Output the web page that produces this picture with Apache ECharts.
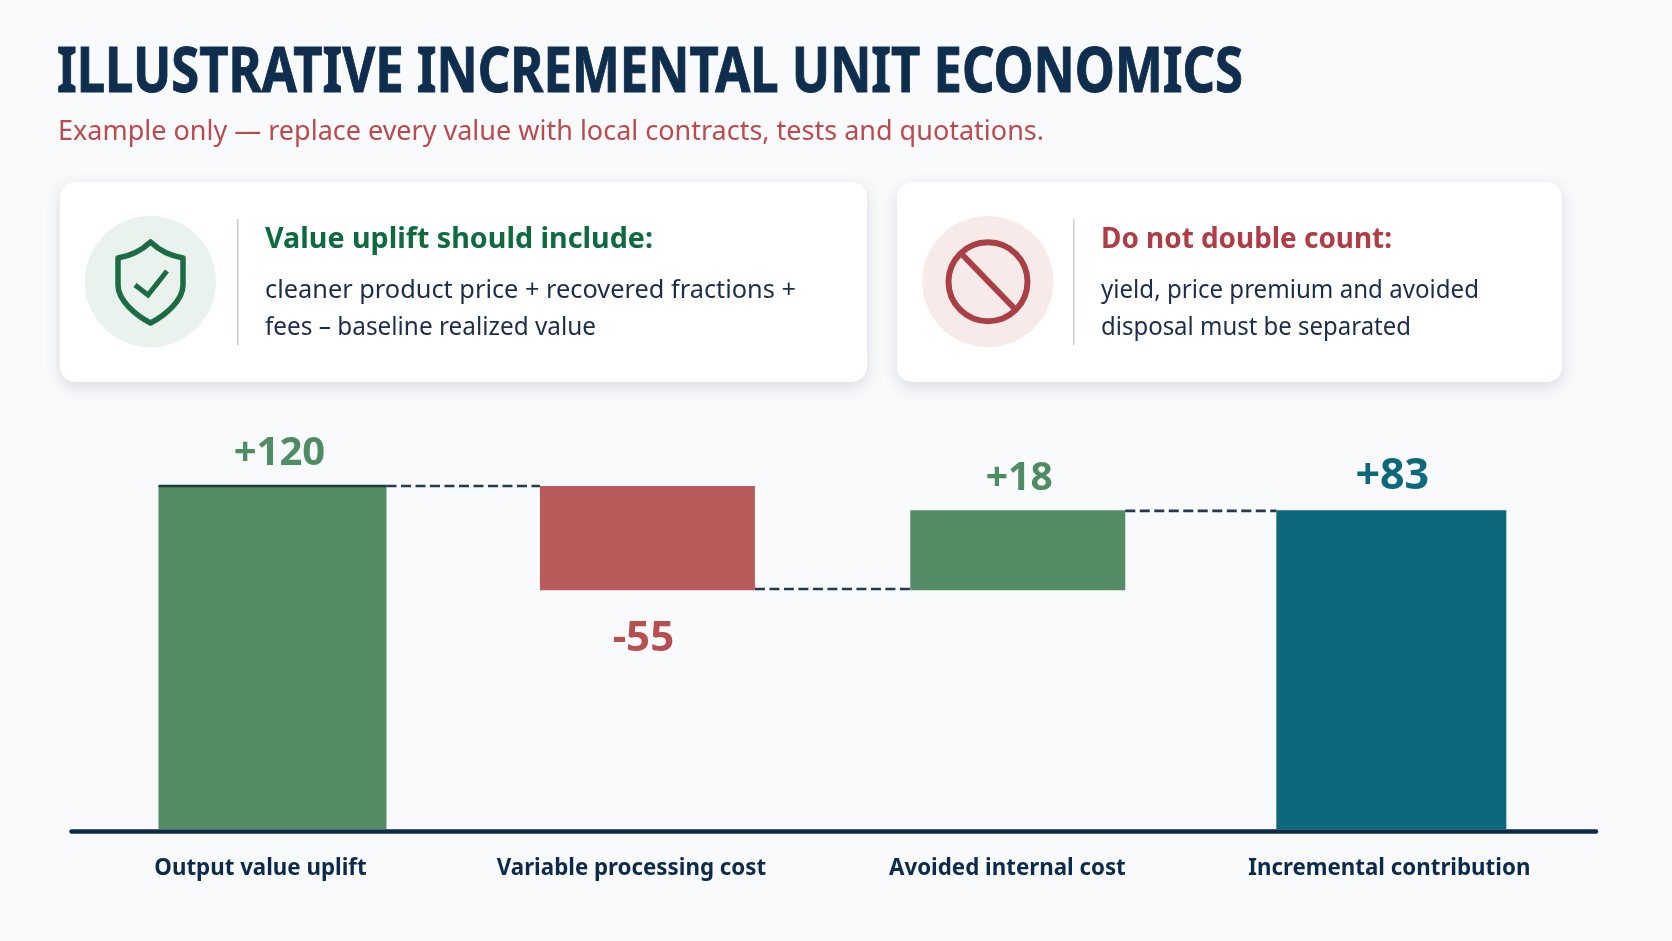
<!DOCTYPE html>
<html><head><meta charset="utf-8">
<style>html,body{margin:0;padding:0;background:#f9fafc}#c{width:1672px;height:941px}</style>
<script src="https://cdn.jsdelivr.net/npm/echarts@6/dist/echarts.min.js"></script>
</head><body><div id="c"></div>
<script>
// Data: bar extents as drawn in the picture (the drawn heights are not to the labelled scale)
const categories = ['Output value uplift','Variable processing cost','Avoided internal cost','Incremental contribution'];
const barStart = [0, 120, 83.6, 0];
const barEnd = [120, 83.6, 111.5, 111.5];
const valueLabels = ['+120','-55','+18','+83'];
const connectorLevels = [120, 84, 111.3];

// Styling
const NAVY='#0c2a4a', INK='#1d2d48', GREEN='#548c66', RED='#b95a5b', TEAL='#0e687b';
const barColors=[GREEN,RED,GREEN,TEAL];
const labelColors=['#4f8c64','#b74f52','#4f8c64','#0e687b'];
const barWidths=[228,215,215,230];
const barShifts=[0,2,-0.6,0];
const labelShifts=[7,-4,1.5,1];
const labelDy=[-32,49,-31,-34];
const labelSizes=[40,42,39,43];
const catPad=[24,28,22,4];
const FONT='"Noto Sans", sans-serif';

echarts.graphic.registerShape('shield',echarts.graphic.extendShape({
  buildPath(ctx){
    ctx.moveTo(150.5,242);
    ctx.bezierCurveTo(140,252,130,256,118,258);
    ctx.lineTo(118,285);
    ctx.bezierCurveTo(118,300,135,315,150.5,323);
    ctx.bezierCurveTo(166,315,183,300,183,285);
    ctx.lineTo(183,258);
    ctx.bezierCurveTo(171,256,161,252,150.5,242);
    ctx.closePath();
  }
}));

function fit(text,font,target){const c=document.createElement('canvas').getContext('2d');c.font=font;return target/c.measureText(text).width;}
function txt(x,y,text,size,weight,color,target,extra){
  const fam='"Noto Sans"';
  const sx=target?fit(text,weight+' '+size+'px '+fam,target):1;
  return {type:'text',x,y,scaleX:sx,scaleY:1,z:5,style:Object.assign({text,fontFamily:fam,fontSize:size,fontWeight:weight,fill:color,textAlign:'left',textVerticalAlign:'middle'},extra||{})};
}
function card(x,y,w,h){return {type:'rect',z:1,shape:{x,y,width:w,height:h,r:15},style:{fill:'#ffffff',shadowBlur:16,shadowOffsetY:5,shadowColor:'rgba(40,55,80,0.16)'}};}
function circle(cx,cy,r,fill){return {type:'circle',z:2,shape:{cx,cy,r},style:{fill}};}
function divider(x){return {type:'line',z:2,shape:{x1:x,y1:219,x2:x,y2:345},style:{stroke:'#c9cdcf',lineWidth:1.5}};}

const chart=echarts.init(document.getElementById('c'));
chart.setOption({
  animation:false,
  backgroundColor:'#f9fafc',
  grid:[{left:86,width:1491.8,top:486,height:343.3},{left:71.5,width:1524.5,top:829,height:2.5}],
  xAxis:[
    {type:'category',gridIndex:0,data:categories,axisLine:{show:false},axisTick:{show:false},splitLine:{show:false},
     axisLabel:{interval:0,margin:28,formatter:(v,i)=>`{l${i}|${v}}`,
       rich:Object.fromEntries(catPad.map((p,i)=>['l'+i,{fontFamily:FONT,fontSize:22.3,fontWeight:700,color:NAVY,padding:[0,p,0,0]}]))}},
    {type:'category',gridIndex:1,data:categories,axisLine:{show:true,lineStyle:{color:NAVY,width:4.5}},axisTick:{show:false},axisLabel:{show:false},splitLine:{show:false}}
  ],
  yAxis:[
    {type:'value',gridIndex:0,min:0,max:120,show:false},
    {type:'value',gridIndex:1,min:0,max:1,show:false}
  ],
  series:[{
    type:'custom',xAxisIndex:0,yAxisIndex:0,clip:false,z:3,
    data:categories.map((c,i)=>[i,barStart[i],barEnd[i]]),
    encode:{x:0,y:[1,2]},
    renderItem(params,api){
      const i=api.value(0);
      const a=api.coord([i,api.value(1)]), b=api.coord([i,api.value(2)]);
      const cx=a[0]+barShifts[i], w=barWidths[i];
      const top=Math.min(a[1],b[1]), bottom=Math.max(a[1],b[1]);
      const anchor=(barEnd[i]<barStart[i])?bottom:top;
      const children=[
        {type:'rect',shape:{x:cx-w/2,y:top,width:w,height:bottom-top},style:{fill:barColors[i]}},
        {type:'text',x:cx+labelShifts[i],y:anchor+labelDy[i],style:{text:valueLabels[i],fontFamily:FONT,fontSize:labelSizes[i],fontWeight:700,fill:labelColors[i],textAlign:'center',textVerticalAlign:'middle'}}
      ];
      return {type:'group',children};
    }
  },{
    type:'custom',xAxisIndex:0,yAxisIndex:0,clip:false,z:4,
    data:connectorLevels.map((v,i)=>[i,v]),
    encode:{x:0,y:1},
    renderItem(params,api){
      const i=api.value(0), y=api.coord([i,api.value(1)])[1];
      const p0=api.coord([i,0])[0]+barShifts[i], p1=api.coord([i+1,0])[0]+barShifts[i+1];
      const x1=p0+barWidths[i]/2, x2=p1-barWidths[i+1]/2;
      const kids=[{type:'line',shape:{x1,y1:y,x2,y2:y},style:{stroke:'#26394f',lineWidth:2.6,lineDash:[10,4.5]}}];
      if(i===0) kids.push({type:'line',shape:{x1:x1-barWidths[0],y1:y,x2:x1,y2:y},style:{stroke:'#1a3d3a',lineWidth:2.4}});
      return {type:'group',children:kids};
    }
  }],
  graphic:[
    txt(57,74,'ILLUSTRATIVE INCREMENTAL UNIT ECONOMICS',63,700,'#0f2d4d',1186,{stroke:'#0f2d4d',lineWidth:1}),
    txt(58,132,'Example only — replace every value with local contracts, tests and quotations.',28,400,'#bb4a4f',986),
    card(60,182,807,200),
    circle(150.4,281.7,65.6,'#e9f2ed'),
    divider(237.8),
    {type:'shield',z:3,shape:{},style:{fill:'none',stroke:'#1b6b45',lineWidth:5.5,lineJoin:'round'}},
    {type:'polyline',z:3,shape:{points:[[135,285],[148,295],[167,271]]},style:{fill:'none',stroke:'#1b6b45',lineWidth:5}},
    txt(265,240,'Value uplift should include:',28,700,'#0f6b3f',388),
    txt(265,291,'cleaner product price + recovered fractions +',25,400,INK,531),
    txt(265,327.5,'fees – baseline realized value',25,400,INK,331),
    card(897,182,665,200),
    circle(987.8,281.7,65.6,'#f7ebea'),
    divider(1073.7),
    {type:'circle',z:3,shape:{cx:988,cy:281.7,r:39.5},style:{fill:'none',stroke:'#ab3f46',lineWidth:6}},
    {type:'line',z:3,shape:{x1:962.6,y1:255,x2:1014,y2:308},style:{stroke:'#ab3f46',lineWidth:6}},
    txt(1101,240,'Do not double count:',28,700,'#b03d45',291),
    txt(1101,291,'yield, price premium and avoided',25,400,INK,378),
    txt(1101,327.5,'disposal must be separated',25,400,INK,310)
  ]
});
</script></body></html>
